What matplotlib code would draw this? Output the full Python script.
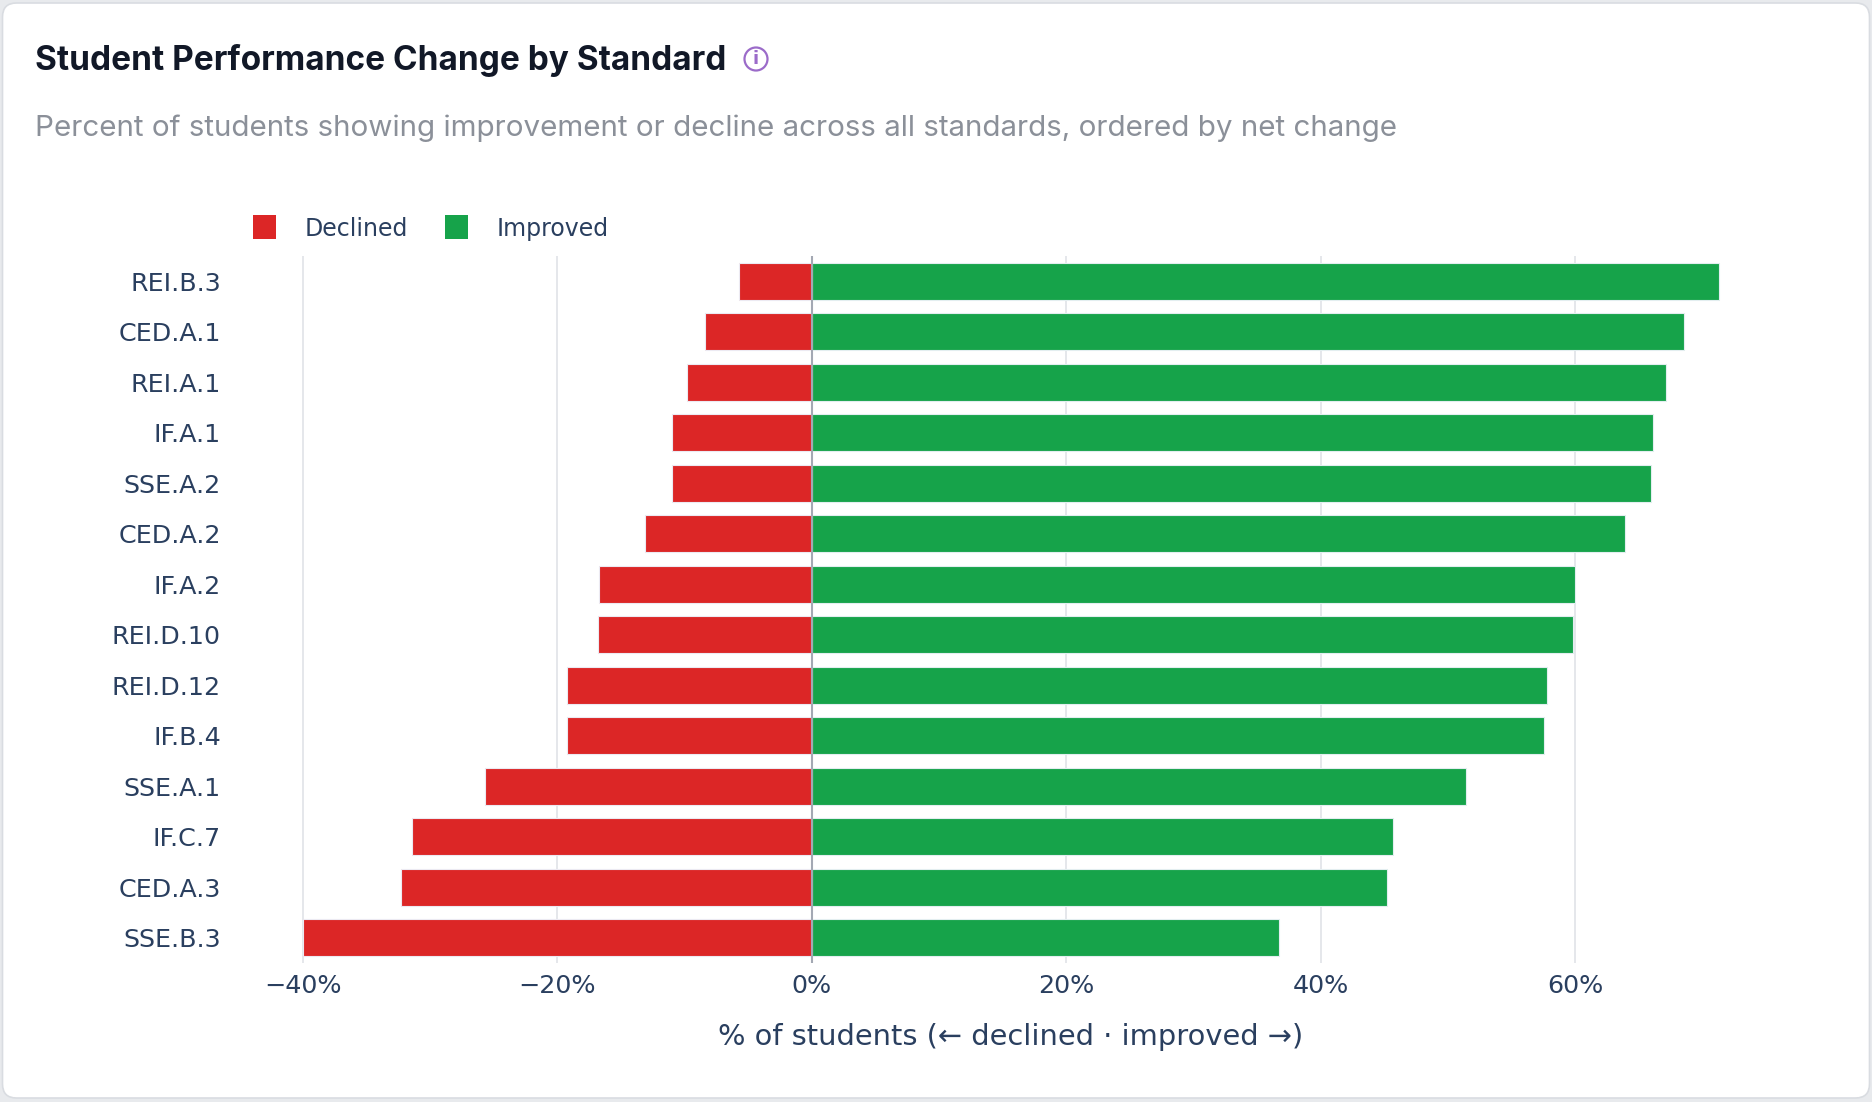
import matplotlib
matplotlib.use('Agg')
import matplotlib.pyplot as plt
from matplotlib.patches import FancyBboxPatch, Circle, Rectangle
from matplotlib.transforms import IdentityTransform
import numpy as np

# standards, ordered by net change (top to bottom)
standards = ['REI.B.3', 'CED.A.1', 'REI.A.1', 'IF.A.1', 'SSE.A.2', 'CED.A.2', 'IF.A.2',
             'REI.D.10', 'REI.D.12', 'IF.B.4', 'SSE.A.1', 'IF.C.7', 'CED.A.3', 'SSE.B.3']
declined = [5.7, 8.4, 9.8, 11.0, 11.0, 13.1, 16.7, 16.8, 19.2, 19.2, 25.7, 31.4, 32.3, 40.0]
improved = [71.3, 68.5, 67.1, 66.1, 65.9, 63.9, 60.0, 59.8, 57.8, 57.5, 51.4, 45.7, 45.2, 36.7]
x_ticks = [-40, -20, 0, 20, 40, 60]
x_tick_labels = ['\u221240%', '\u221220%', '0%', '20%', '40%', '60%']

W, H = 1872, 1102
RED = '#dc2626'
GREEN = '#16a34a'
INK = '#2a3f5f'

fig = plt.figure(figsize=(W / 100, H / 100), dpi=100)
fig.patch.set_facecolor('#e8eaed')

# white card
card = FancyBboxPatch((2.5, 4), 1867, 1095, boxstyle='round,pad=0,rounding_size=14',
                      transform=IdentityTransform(), facecolor='white',
                      edgecolor='#d9dce1', linewidth=1.2, zorder=-1)
fig.add_artist(card)

ax = fig.add_axes([226.4 / W, 139 / H, (1795.6 - 226.4) / W, 707 / H])
ax.set_facecolor('none')

y = np.arange(len(standards))
ax.barh(y, [-d for d in declined], height=0.73, color=RED, edgecolor='#eceaf2',
        linewidth=0.8, label='Declined', zorder=3)
ax.barh(y, improved, height=0.73, color=GREEN, edgecolor='#e3eef0',
        linewidth=0.8, label='Improved', zorder=3)

ax.set_xlim(-46, 77.3)
ax.set_ylim(len(standards) - 0.5, -0.5)
ax.axvline(0, color='#a3a8b3', linewidth=1.5, zorder=4)

ax.set_xticks(x_ticks)
ax.set_xticklabels(x_tick_labels)
ax.set_yticks(y)
ax.set_yticklabels(standards)
ax.tick_params(axis='both', length=0, labelsize=18.3, labelcolor=INK)
ax.tick_params(axis='x', pad=8)
ax.tick_params(axis='y', pad=4)
ax.grid(axis='x', color='#e5e7eb', linewidth=1.4, zorder=0)
ax.set_axisbelow(True)
for s in ax.spines.values():
    s.set_visible(False)

ax.set_xlabel('% of students (\u2190 declined \u00b7 improved \u2192)', fontsize=20.8,
              color=INK, labelpad=18)

# title, info icon, subtitle
fig.text(35 / W, 1 - 70 / H, 'Student Performance Change by Standard', fontsize=24,
         fontweight='bold', family='Inter', color='#111827', va='baseline')
icon_c = (756, H - 59)
fig.add_artist(Circle(icon_c, 11.5, transform=IdentityTransform(), facecolor='none',
                      edgecolor='#9b6bc9', linewidth=1.6))
fig.text(icon_c[0] / W, icon_c[1] / H, 'i', fontsize=13, color='#9b6bc9',
         ha='center', va='center', fontweight='bold')
fig.text(35 / W, 1 - 136 / H,
         'Percent of students showing improvement or decline across all standards, ordered by net change',
         fontsize=21.3, family='Inter', color='#8b9099', va='baseline')

# legend
for x0, col, lab in [(253, RED, 'Declined'), (445, GREEN, 'Improved')]:
    fig.add_artist(Rectangle((x0, H - 239), 23, 24, transform=IdentityTransform(),
                             facecolor=col, edgecolor='none'))
    fig.text((x0 + 52) / W, 1 - 236 / H, lab, fontsize=17, color=INK, va='baseline')

fig.savefig('out.png', dpi=100, facecolor=fig.get_facecolor())
